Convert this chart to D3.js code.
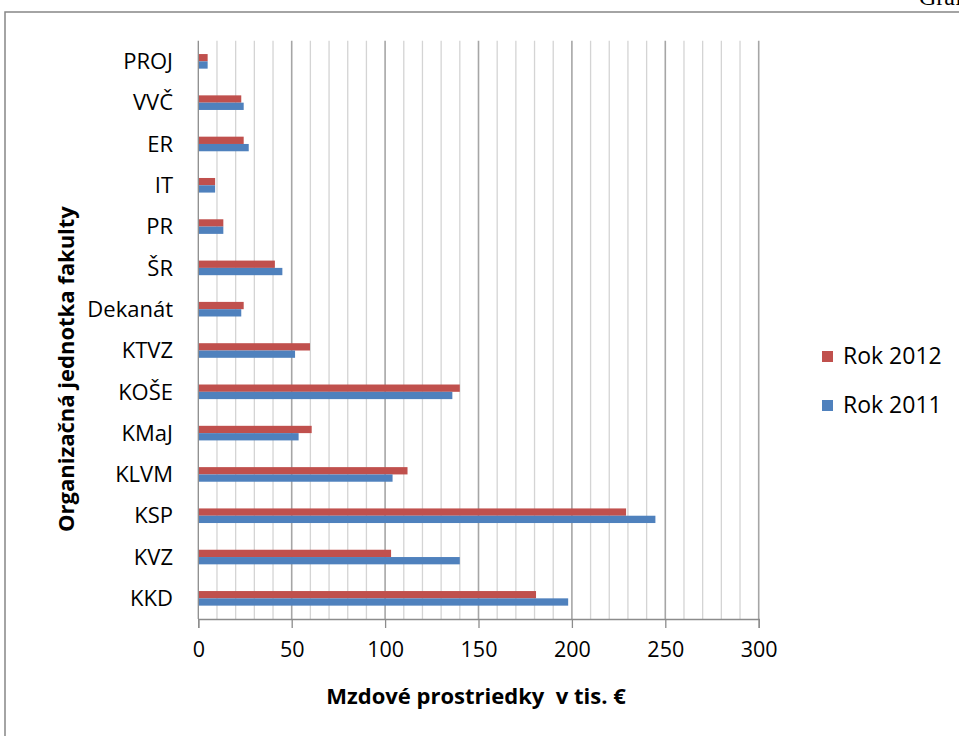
<!DOCTYPE html>
<html>
<head>
<meta charset="utf-8">
<script src="https://cdn.jsdelivr.net/npm/d3@7"></script>
<style>
  body { margin: 0; background: #fff; }
  svg { display: block; }
  .lbl { font-family: "Open Sans", sans-serif; fill: #000; }
</style>
</head>
<body>
<div id="chart"></div>
<script>
// categories top to bottom
var units = ["PROJ", "VVČ", "ER", "IT", "PR", "ŠR", "Dekanát", "KTVZ", "KOŠE", "KMaJ", "KLVM", "KSP", "KVZ", "KKD"];
var rok2012 = [5, 23, 24.3, 9, 13.4, 41, 24.3, 59.8, 140, 60.7, 112, 229, 103.2, 180.8];
var rok2011 = [5, 24.3, 27, 9, 13.4, 45, 23, 51.8, 136, 53.7, 104, 244.7, 140, 198];
var xTicks = [0, 50, 100, 150, 200, 250, 300];
var seriesNames = ["Rok 2012", "Rok 2011"];
var colors = ["#C0504D", "#4F81BD"];

var W = 959, H = 736;
var svg = d3.select("#chart").append("svg").attr("width", W).attr("height", H);

// outer frame of the chart object
svg.append("rect").attr("x", 5).attr("y", 12).attr("width", W + 10).attr("height", H + 10)
  .attr("fill", "none").attr("stroke", "#878787").attr("stroke-width", 1.5);

// clipped text of the page behind
svg.append("text").attr("x", 919).attr("y", 5)
  .style("font-family", "Liberation Serif, serif").style("font-size", "24px").text("Graf");

var pLeft = 198.3, pRight = 758.7, pTop = 40.7, pBottom = 619;

var x = d3.scaleLinear().domain([0, 300]).range([pLeft, pRight]);
var y = d3.scaleBand().domain(units).range([pTop, pBottom]).paddingInner(0).paddingOuter(0);
var barH = 7.3;

// gridlines every 10
var grid = svg.append("g");
grid.selectAll("line").data(d3.range(10, 301, 10)).enter().append("line")
  .attr("x1", d => x(d)).attr("x2", d => x(d))
  .attr("y1", pTop).attr("y2", pBottom)
  .attr("stroke", d => d % 50 === 0 ? "#a6a6a6" : "#d4d4d4")
  .attr("stroke-width", d => d % 50 === 0 ? 1.6 : 1.3);

// bars
var rows = svg.append("g").selectAll("g").data(units).enter().append("g")
  .attr("transform", d => "translate(0," + (y(d) + y.bandwidth() / 2) + ")");
rows.append("rect")
  .attr("x", x(0)).attr("y", -barH)
  .attr("width", (d, i) => x(rok2012[i]) - x(0)).attr("height", barH)
  .attr("fill", colors[0]);
rows.append("rect")
  .attr("x", x(0)).attr("y", 0)
  .attr("width", (d, i) => x(rok2011[i]) - x(0)).attr("height", barH)
  .attr("fill", colors[1]);

// y axis line
svg.append("line").attr("x1", pLeft).attr("x2", pLeft).attr("y1", pTop).attr("y2", pBottom)
  .attr("stroke", "#8c8c8c").attr("stroke-width", 1.3);

// x axis
var xAxis = svg.append("g").attr("transform", "translate(0," + pBottom + ")")
  .call(d3.axisBottom(x).tickValues(xTicks).tickSize(9).tickPadding(14));
xAxis.select(".domain").attr("stroke", "#8c8c8c").attr("stroke-width", 1.3);
xAxis.selectAll(".tick line").attr("stroke", "#8c8c8c").attr("stroke-width", 1.3);
xAxis.selectAll("text").attr("class", "lbl").style("font-size", "21.5px").attr("fill", "#000");

// category labels
svg.append("g").selectAll("text").data(units).enter().append("text")
  .attr("class", "lbl")
  .attr("x", 173).attr("y", d => y(d) + y.bandwidth() / 2)
  .attr("dy", "0.35em").attr("text-anchor", "end")
  .style("font-size", "22px").text(d => d);

// axis titles
svg.append("text").attr("class", "lbl").attr("x", 476).attr("y", 704)
  .attr("text-anchor", "middle").style("font-size", "22px").style("font-weight", "bold")
  .style("white-space", "pre")
  .text("Mzdové prostriedky  v tis. €");
svg.append("text").attr("class", "lbl")
  .attr("transform", "translate(74,369) rotate(-90)")
  .attr("text-anchor", "middle").style("font-size", "22px").style("font-weight", "bold")
  .text("Organizačná jednotka fakulty");

// legend
var legend = svg.append("g").selectAll("g").data(seriesNames).enter().append("g")
  .attr("transform", (d, i) => "translate(822," + (351 + i * 49) + ")");
legend.append("rect").attr("width", 11).attr("height", 11).attr("fill", (d, i) => colors[i]);
legend.append("text").attr("class", "lbl").attr("x", 21).attr("y", 13)
  .style("font-size", "23px").text(d => d);
</script>
</body>
</html>
